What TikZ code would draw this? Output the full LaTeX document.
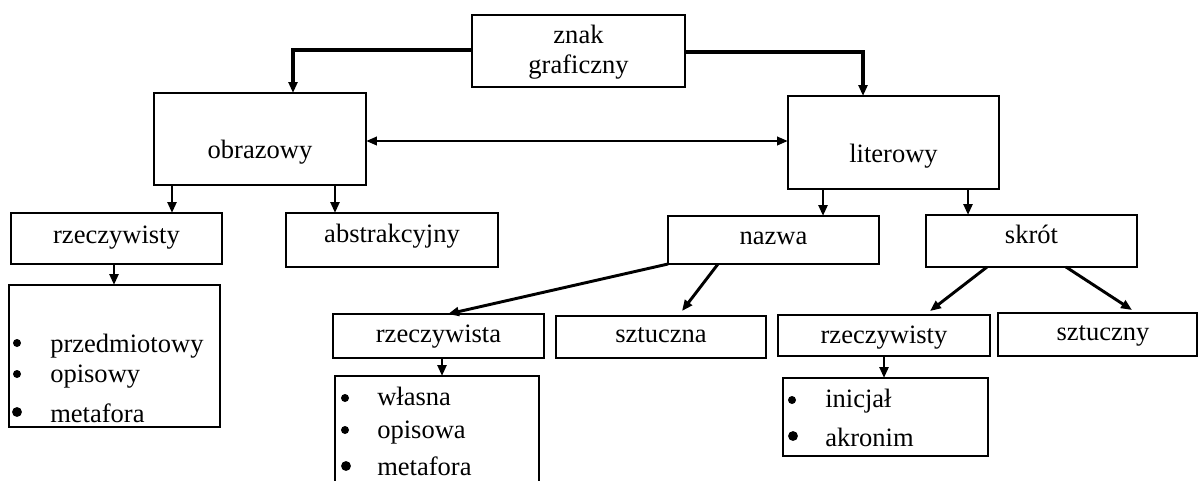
\documentclass[tikz,border=0pt]{standalone}
\usepackage{fontspec}
\setmainfont{Liberation Serif}
\usetikzlibrary{arrows.meta}
% box: name, x1, y1, x2, y2
\newcommand\mkbox[5]{\node[box, minimum width={(#4-#2)*0.75pt}, minimum height={(#5-#3)*0.75pt}] (#1) at ({(#2+#4)/2},{(#3+#5)/2}) {};}
\begin{document}
\begin{tikzpicture}[x=0.75pt,y=-0.75pt,
  box/.style={draw, line width=1.1pt, inner sep=0pt, outer sep=0pt},
  txt/.style={inner sep=0pt, anchor=base, font=\fontsize{19.9}{22.5}\selectfont},
  item/.style={inner sep=0pt, anchor=base west, font=\fontsize{19.9}{24}\selectfont},
  bul/.style={circle, fill, inner sep=0pt, minimum size=6pt},
  bulb/.style={circle, fill, inner sep=0pt, minimum size=7.4pt},
  tip/.style={-{Triangle[length=8.2pt,width=6.6pt]}},
  conn/.style={line width=2.2pt, tip},
  connb/.style={line width=2.5pt, tip}]
\useasboundingbox (0,0) rectangle (1198,480);
\begin{scope}
\clip (0,0) rectangle (1198,480);
\mkbox{znak}{472}{15}{685}{87}
\node[txt, align=center] (znakT) at (578.5,73) {znak\\graficzny};
\mkbox{obr}{154}{93}{366}{185}
\node[txt] (obrT) at (260,158) {obrazowy};
\mkbox{lit}{788}{96}{999}{189}
\node[txt] (litT) at (893.5,162) {literowy};
\mkbox{rzL}{11}{213}{222}{264}
\node[txt] (rzLT) at (116.5,243) {rzeczywisty};
\mkbox{abs}{286}{213}{498}{267}
\node[txt] (absT) at (392,242) {abstrakcyjny};
\mkbox{naz}{668}{216}{879}{264}
\node[txt] (nazT) at (773.5,244) {nazwa};
\mkbox{skr}{926}{215}{1137}{267}
\node[txt] (skrT) at (1031.5,243) {skrót};
\mkbox{listL}{9}{285}{220}{427}
\mkbox{rza}{333}{314}{544}{358}
\node[txt] (rzaT) at (438.5,342) {rzeczywista};
\mkbox{szt}{556}{316}{766}{358}
\node[txt] (sztT) at (661,342) {sztuczna};
\mkbox{rzR}{778}{315}{990}{356}
\node[txt] (rzRT) at (884,343) {rzeczywisty};
\mkbox{szty}{998}{313}{1197}{356}
\node[txt] (sztyT) at (1103,340) {sztuczny};
\mkbox{listM}{335}{376}{539}{495}
\mkbox{listR}{783}{378}{988}{456}
% list items
\node[bul] (bL1) at (17,343) {}; \node[item] (iL1) at (50,352) {przedmiotowy};
\node[bul] (bL2) at (17,374) {}; \node[item] (iL2) at (50,382) {opisowy};
\node[bulb] (bL3) at (17,412) {}; \node[item] (iL3) at (50,422) {metafora};
\node[bul] (bM1) at (345,398) {}; \node[item] (iM1) at (377,405) {własna};
\node[bul] (bM2) at (345,430) {}; \node[item] (iM2) at (377,438) {opisowa};
\node[bulb] (bM3) at (346,466) {}; \node[item] (iM3) at (377,475) {metafora};
\node[bul] (bR1) at (792,400) {}; \node[item] (iR1) at (825,407) {inicjał};
\node[bulb] (bR2) at (793,436) {}; \node[item] (iR2) at (825,446) {akronim};
% connectors
\draw[connb] (znak.west |- 0,50) -| (293,0 |- obr.north);
\draw[connb] (znak.east |- 0,52) -| (863,0 |- lit.north);
\draw[conn,{Triangle[length=8.2pt,width=6.2pt]}-{Triangle[length=8.2pt,width=6.2pt]}] (obr.east |- 0,141) -- (lit.west |- 0,141);
\draw[conn] (172,0 |- obr.south) -- (172,0 |- rzL.north);
\draw[conn] (335,0 |- obr.south) -- (335,0 |- abs.north);
\draw[conn] (823,0 |- lit.south) -- (823,0 |- naz.north);
\draw[conn] (968,0 |- lit.south) -- (968,0 |- skr.north);
\draw[conn] (114,0 |- rzL.south) -- (114,0 |- listL.north);
\draw[conn] (442,0 |- rza.south) -- (442,0 |- listM.north);
\draw[conn] (884,0 |- rzR.south) -- (884,0 |- listR.north);
\draw[conn] (naz.south west) -- (448,314);
\draw[conn] (718,0 |- naz.south) -- (682,311);
\draw[conn] (987,0 |- skr.south) -- (930,311);
\draw[conn] (1066,0 |- skr.south) -- (1132,310);
\end{scope}
\end{tikzpicture}
\end{document}
